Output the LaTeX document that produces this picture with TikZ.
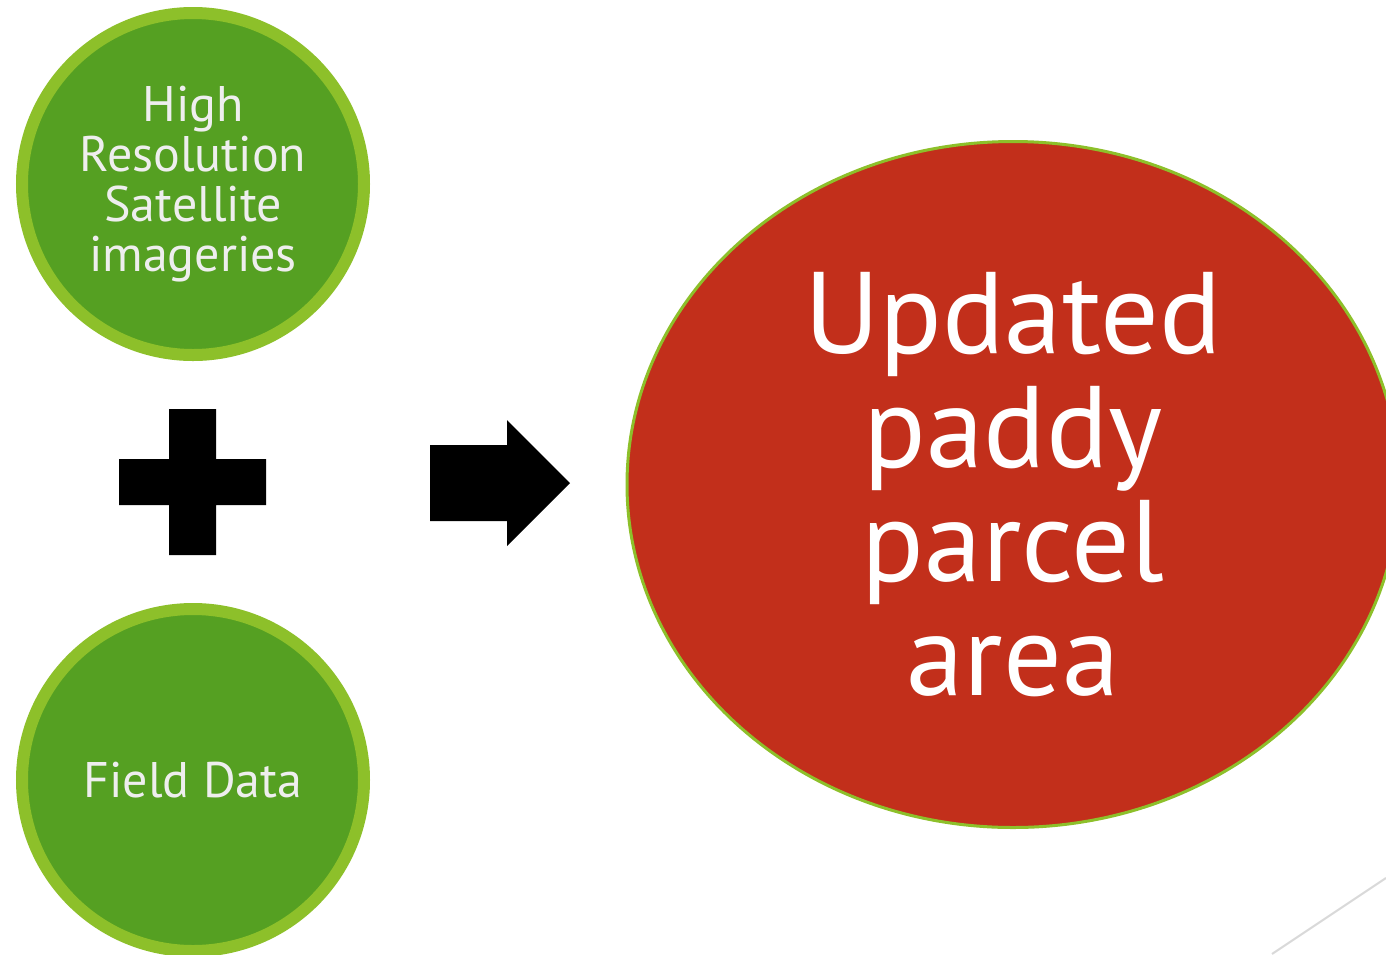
\documentclass[tikz,border=0pt]{standalone}
\usepackage{fontspec}
\setmainfont{PT Sans}
\usetikzlibrary{shapes.geometric}
\definecolor{leaf}{HTML}{55A022}
\definecolor{lime}{HTML}{8DC02A}
\definecolor{brick}{HTML}{C22F1B}
\definecolor{paletext}{HTML}{EEEEEE}
\definecolor{rule}{HTML}{D9D9D9}
\tikzset{
  greencirc/.style={circle, draw=lime, fill=leaf, line width=6pt, minimum size=171pt, inner sep=0pt,
    text=paletext, align=center, font=\fontsize{25}{25}\selectfont},
  redoval/.style={ellipse, draw=lime, fill=brick, line width=1.5pt, minimum width=386pt, minimum height=343pt,
    inner sep=0pt, text=white, align=center, font=\fontsize{58}{57}\selectfont},
  blackshape/.style={fill=black}
}
\begin{document}
\begin{tikzpicture}[x=0.5pt,y=-0.5pt]
\useasboundingbox (0,0) rectangle (1386,954);
\fill[white] (0,0) rectangle (1386,954);
\node[greencirc] (sat) at (193,184) {High\\Resolution\\Satellite\\imageries};
\node[greencirc] (field) at (193,780) {Field Data};
\node[redoval] (out) at (1013,484.5) {Updated\\paddy\\parcel\\area};
% plus sign
\fill[blackshape] (169,409) -- (216,409) -- (216,459) -- (266,459) -- (266,505) -- (216,505)
  -- (216,555) -- (169,555) -- (169,505) -- (119,505) -- (119,459) -- (169,459) -- cycle;
% block arrow
\fill[blackshape] (430,445) -- (507,445) -- (507,420) -- (570,483) -- (507,546) -- (507,521) -- (430,521) -- cycle;
% corner rule
\draw[rule, line width=1pt] (1272,954) -- (1386,878);
\end{tikzpicture}
\end{document}
